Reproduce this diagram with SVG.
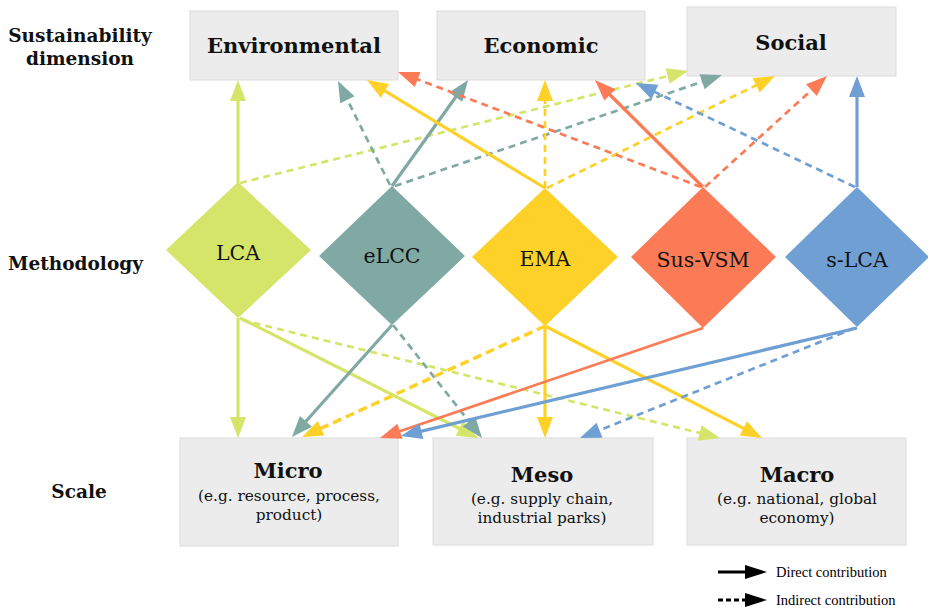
<svg xmlns="http://www.w3.org/2000/svg" width="928" height="608" viewBox="0 0 928 608">
<style>
.box{fill:#ececec;stroke:#dcdcdc;stroke-width:1}
.hdr{font-family:"DejaVu Serif",serif;font-weight:bold;font-size:21px;fill:#111;text-anchor:middle}
.lab{font-family:"DejaVu Serif",serif;font-weight:bold;font-size:18.5px;fill:#111}
.dia{font-family:"DejaVu Serif",serif;font-size:20.5px;fill:#111;text-anchor:middle}
.sub{font-family:"DejaVu Serif",serif;font-size:15.3px;fill:#111;text-anchor:middle}
.leg{font-family:"Liberation Serif",serif;font-size:14.5px;fill:#000}
.s{fill:none;stroke-width:3.2}
.d{fill:none;stroke-width:2.7;stroke-dasharray:7 5}
.lca{stroke:#d4e56a}.elcc{stroke:#7fa9a2}.ema{stroke:#fdd127}.vsm{stroke:#fb7b57}.slca{stroke:#6f9fd3}
</style>
<defs>
<marker id="mLCA" markerUnits="userSpaceOnUse" markerWidth="21" markerHeight="16" refX="4" refY="8" orient="auto" overflow="visible"><path d="M0,0 L21,8 L0,16 z" fill="#d4e56a"/></marker>
<marker id="mELCC" markerUnits="userSpaceOnUse" markerWidth="21" markerHeight="16" refX="4" refY="8" orient="auto" overflow="visible"><path d="M0,0 L21,8 L0,16 z" fill="#7fa9a2"/></marker>
<marker id="mEMA" markerUnits="userSpaceOnUse" markerWidth="21" markerHeight="16" refX="4" refY="8" orient="auto" overflow="visible"><path d="M0,0 L21,8 L0,16 z" fill="#fdd127"/></marker>
<marker id="mVSM" markerUnits="userSpaceOnUse" markerWidth="21" markerHeight="16" refX="4" refY="8" orient="auto" overflow="visible"><path d="M0,0 L21,8 L0,16 z" fill="#fb7b57"/></marker>
<marker id="mSLCA" markerUnits="userSpaceOnUse" markerWidth="21" markerHeight="16" refX="4" refY="8" orient="auto" overflow="visible"><path d="M0,0 L21,8 L0,16 z" fill="#6f9fd3"/></marker>
<marker id="mBlk" markerUnits="userSpaceOnUse" markerWidth="22" markerHeight="14" refX="2" refY="7" orient="auto" overflow="visible"><path d="M0,0 L22,7 L0,14 z" fill="#000"/></marker>
</defs>
<rect width="928" height="608" fill="#fff"/>

<g id="labels">
<text class="lab" x="80" y="42" text-anchor="middle">Sustainability</text>
<text class="lab" x="80" y="65" text-anchor="middle">dimension</text>
<text class="lab" x="8" y="270">Methodology</text>
<text class="lab" x="79" y="498" text-anchor="middle">Scale</text>
</g>

<g id="environmental"><rect class="box" x="190" y="11" width="208" height="69"/><text class="hdr" x="294" y="53">Environmental</text></g>
<g id="economic"><rect class="box" x="437" y="11" width="208" height="69"/><text class="hdr" x="541" y="53">Economic</text></g>
<g id="social"><rect class="box" x="687" y="7" width="209" height="69"/><text class="hdr" x="791" y="50">Social</text></g>

<g id="micro"><rect class="box" x="180" y="438" width="218" height="108"/><text class="hdr" x="288" y="478">Micro</text><text class="sub" x="289" y="501">(e.g. resource, process,</text><text class="sub" x="289" y="520">product)</text></g>
<g id="meso"><rect class="box" x="433" y="438" width="220" height="107"/><text class="hdr" x="542" y="482">Meso</text><text class="sub" x="542" y="504">(e.g. supply chain,</text><text class="sub" x="542" y="523">industrial parks)</text></g>
<g id="macro"><rect class="box" x="687" y="438" width="219" height="107"/><text class="hdr" x="797" y="482">Macro</text><text class="sub" x="797" y="504">(e.g. national, global</text><text class="sub" x="797" y="523">economy)</text></g>

<g id="connectors">
<line class="s lca" x1="238" y1="183" x2="238" y2="97" marker-end="url(#mLCA)"/>
<line class="d lca" x1="240" y1="183" x2="671.5" y2="75.1" marker-end="url(#mLCA)"/>
<line class="s lca" x1="238" y1="318" x2="238" y2="421" marker-end="url(#mLCA)"/>
<line class="s lca" x1="240" y1="318" x2="462.8" y2="430.3" marker-end="url(#mLCA)"/>
<line class="d lca" x1="242" y1="320" x2="703.5" y2="433.9" marker-end="url(#mLCA)"/>
<line class="s elcc" x1="392" y1="186" x2="458.1" y2="93.8" marker-end="url(#mELCC)"/>
<line class="d elcc" x1="390" y1="185" x2="345.6" y2="96.2" marker-end="url(#mELCC)"/>
<line class="d elcc" x1="395" y1="186" x2="705.9" y2="80.5" marker-end="url(#mELCC)"/>
<line class="s elcc" x1="392" y1="325" x2="303.3" y2="424.3" marker-end="url(#mELCC)"/>
<line class="d elcc" x1="393" y1="325" x2="471.5" y2="424.6" marker-end="url(#mELCC)"/>
<line class="d ema" x1="545" y1="188" x2="545" y2="97" marker-end="url(#mEMA)"/>
<line class="s ema" x1="545" y1="188" x2="381.5" y2="88.8" marker-end="url(#mEMA)"/>
<line class="d ema" x1="547" y1="188" x2="759.7" y2="83.5" marker-end="url(#mEMA)"/>
<line class="s ema" x1="545" y1="326" x2="545" y2="421" marker-end="url(#mEMA)"/>
<line class="d ema" x1="545" y1="326" x2="317.5" y2="429.9" marker-end="url(#mEMA)" style="stroke-width:3.5;stroke-dasharray:9 5"/>
<line class="s ema" x1="545" y1="326" x2="746.9" y2="430.2" marker-end="url(#mEMA)"/>
<line class="s vsm" x1="703" y1="187" x2="607.1" y2="92" marker-end="url(#mVSM)"/>
<line class="d vsm" x1="701" y1="187" x2="413.9" y2="78" marker-end="url(#mVSM)"/>
<line class="d vsm" x1="705" y1="187" x2="814.4" y2="87.4" marker-end="url(#mVSM)"/>
<line class="s vsm" x1="703" y1="328" x2="396.1" y2="432.5" marker-end="url(#mVSM)" style="stroke-width:2.7"/>
<line class="s slca" x1="857" y1="187" x2="857" y2="93" marker-end="url(#mSLCA)"/>
<line class="d slca" x1="855" y1="187" x2="651.3" y2="90.3" marker-end="url(#mSLCA)"/>
<line class="s slca" x1="857" y1="328" x2="417.5" y2="432.1" marker-end="url(#mSLCA)"/>
<line class="d slca" x1="855" y1="328" x2="595.8" y2="431.7" marker-end="url(#mSLCA)"/>
</g>

<g id="lca"><polygon points="238,182 311,250 238,318 166,250" fill="#d4e56a"/><text class="dia" x="238" y="260">LCA</text></g>
<g id="elcc"><polygon points="392,186 465,256 392,325 319,256" fill="#7fa9a2"/><text class="dia" x="392" y="263">eLCC</text></g>
<g id="ema"><polygon points="545,188 618,257 545,326 472,257" fill="#fdd127"/><text class="dia" x="545" y="266">EMA</text></g>
<g id="susvsm"><polygon points="703,187 776,257 703,328 631,257" fill="#fb7b57"/><text class="dia" x="703" y="267">Sus-VSM</text></g>
<g id="slca"><polygon points="857,187 929,257 857,327 785,257" fill="#6f9fd3"/><text class="dia" x="857" y="267">s-LCA</text></g>

<g id="legend">
<line x1="718" y1="572" x2="747" y2="572" stroke="#000" stroke-width="3" marker-end="url(#mBlk)"/>
<text class="leg" x="776" y="577">Direct contribution</text>
<line x1="718" y1="600" x2="747" y2="600" stroke="#000" stroke-width="3" stroke-dasharray="5 3" marker-end="url(#mBlk)"/>
<text class="leg" x="776" y="605">Indirect contribution</text>
</g>
</svg>
